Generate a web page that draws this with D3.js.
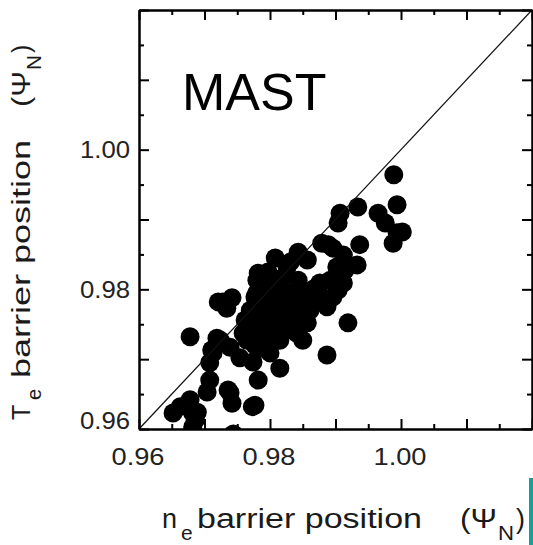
<!DOCTYPE html>
<html>
<head>
<meta charset="utf-8">
<script src="https://cdn.jsdelivr.net/npm/d3@7"></script>
<style>
  html, body { margin: 0; padding: 0; background: #fff; }
  svg { display: block; }
  text { font-family: "Liberation Sans", Arial, Helvetica, sans-serif; }
</style>
</head>
<body>
<svg id="chart" width="533" height="545"></svg>
<script>
// ---- data ----
const neBarrier = [
  0.9989, 0.9994, 0.9965, 0.9976, 1.0002, 0.9988, 0.9994, 0.9934, 0.9907, 0.9904,
  0.9937, 0.9889, 0.9896, 0.9843, 0.9808, 0.9857, 0.9912, 0.9933, 0.9902, 0.9785,
  0.9826, 0.9892, 0.9912, 0.9780, 0.9805, 0.9826, 0.9850, 0.9872, 0.9896, 0.9841,
  0.9815, 0.9861, 0.9887, 0.9811, 0.9835, 0.9857, 0.9826, 0.9800, 0.9789, 0.9815,
  0.9841, 0.9850, 0.9721, 0.9742, 0.9734, 0.9777, 0.9777, 0.9762, 0.9759, 0.9765,
  0.9782, 0.9678, 0.9719, 0.9711, 0.9708, 0.9739, 0.9754, 0.9774, 0.9800, 0.9815,
  0.9919, 0.9887, 0.9782, 0.9708, 0.9704, 0.9739, 0.9742, 0.9736, 0.9777, 0.9678,
  0.9652, 0.9663, 0.9686, 0.9689, 0.9744, 0.9682, 0.9724, 0.9713, 0.9785, 0.9728,
  0.9780, 0.9879, 0.9782, 0.9780, 0.9682, 0.9773,
  0.9792, 0.9818, 0.9843, 0.9876, 0.9904, 0.9770, 0.9792, 0.9831, 0.9873, 0.9788,
  0.9846, 0.9800, 0.9861, 0.9915, 0.9820,
  0.9797, 0.9831, 0.9853, 0.9879, 0.9808, 0.9777, 0.9823, 0.9846, 0.9869, 0.9831,
  0.9797
];
const teBarrier = [
  0.9964, 0.9921, 0.9909, 0.9895, 0.9882, 0.9866, 0.9881, 0.9918, 0.9909, 0.9895,
  0.9864, 0.9864, 0.9859, 0.9853, 0.9845, 0.9842, 0.9849, 0.9835, 0.9832, 0.9818,
  0.9832, 0.9813, 0.9809, 0.9795, 0.9803, 0.9795, 0.9799, 0.9795, 0.9789, 0.9775,
  0.9780, 0.9770, 0.9775, 0.9760, 0.9756, 0.9752, 0.9742, 0.9746, 0.9732, 0.9727,
  0.9737, 0.9727, 0.9782, 0.9788, 0.9773, 0.9789, 0.9773, 0.9756, 0.9737, 0.9727,
  0.9742, 0.9732, 0.9730, 0.9713, 0.9695, 0.9717, 0.9702, 0.9696, 0.9709, 0.9687,
  0.9752, 0.9706, 0.9670, 0.9670, 0.9653, 0.9652, 0.9637, 0.9656, 0.9634, 0.9642,
  0.9623, 0.9632, 0.9613, 0.9624, 0.9593, 0.9603, 0.9727, 0.9709, 0.9716, 0.9782,
  0.9785, 0.9866, 0.9823, 0.9813, 0.9623, 0.9632,
  0.9806, 0.9816, 0.9813, 0.9809, 0.9799, 0.9770, 0.9768, 0.9768, 0.9785, 0.9753,
  0.9748, 0.9727, 0.9792, 0.9828, 0.9796,
  0.9788, 0.9785, 0.9785, 0.9789, 0.9756, 0.9720, 0.9753, 0.9759, 0.9802, 0.9839,
  0.9825
];
const axisDomain = [0.96, 1.02];
const majorTicks = [0.96, 0.97, 0.98, 0.99, 1.00, 1.01, 1.02];
const minorTicks = [0.965, 0.975, 0.985, 0.995, 1.005, 1.015];
const labelTicks = [0.96, 0.98, 1.00];
const labelText = ["0.96", "0.98", "1.00"];
const title = "MAST";

// ---- layout ----
const L = 139, R = 532, T = 10, B = 429;
const svg = d3.select("#chart");
svg.append("rect").attr("width", 533).attr("height", 545).attr("fill", "#fff");

const x = d3.scaleLinear().domain(axisDomain).range([L, R]);
const y = d3.scaleLinear().domain(axisDomain).range([B, T]);

svg.append("defs").append("clipPath").attr("id", "plotClip")
  .append("rect").attr("x", L).attr("y", T).attr("width", R - L).attr("height", B - T);

// points
svg.append("g").attr("clip-path", "url(#plotClip)")
  .selectAll("circle")
  .data(neBarrier.map((v, i) => [v, teBarrier[i]]))
  .join("circle")
  .attr("cx", d => x(d[0]))
  .attr("cy", d => y(d[1]))
  .attr("r", 9.5)
  .attr("fill", "#000");

// diagonal y = x
svg.append("line")
  .attr("x1", x(axisDomain[0])).attr("y1", y(axisDomain[0]))
  .attr("x2", x(axisDomain[1])).attr("y2", y(axisDomain[1]))
  .attr("stroke", "#111").attr("stroke-width", 1.2);

// axes (inward ticks on all four sides)
function styleAxis(g) {
  g.selectAll("path").attr("stroke", "#000").attr("stroke-width", 2);
  g.selectAll("line").attr("stroke", "#000").attr("stroke-width", 2);
  g.selectAll("text").remove();
}
const axisMakers = [
  [() => d3.axisBottom(x), `translate(0,${B})`],
  [() => d3.axisTop(x), `translate(0,${T})`],
  [() => d3.axisLeft(y), `translate(${L},0)`],
  [() => d3.axisRight(y), `translate(${R},0)`]
];
axisMakers.forEach(([mk, tr]) => {
  svg.append("g").attr("transform", tr)
    .call(mk().tickValues(majorTicks).tickSizeInner(-10).tickSizeOuter(0).tickFormat(""))
    .call(styleAxis);
  svg.append("g").attr("transform", tr)
    .call(mk().tickValues(minorTicks).tickSizeInner(-5).tickSizeOuter(0).tickFormat(""))
    .call(styleAxis);
});

// tick labels
svg.append("g").selectAll("text")
  .data(labelTicks)
  .join("text")
  .attr("x", d => x(d) - 1)
  .attr("y", 465)
  .attr("text-anchor", "middle")
  .attr("font-size", 24)
  .attr("fill", "#222")
  .attr("textLength", 53)
  .attr("lengthAdjust", "spacingAndGlyphs")
  .text((d, i) => labelText[i]);

svg.append("g").selectAll("text")
  .data(labelTicks)
  .join("text")
  .attr("x", 130)
  .attr("y", d => Math.min(y(d), 420) + 8.5)
  .attr("text-anchor", "end")
  .attr("font-size", 24)
  .attr("fill", "#222")
  .attr("textLength", 50)
  .attr("lengthAdjust", "spacingAndGlyphs")
  .text((d, i) => labelText[i]);

// MAST label
svg.append("text")
  .attr("x", 182).attr("y", 110)
  .attr("font-size", 52).attr("fill", "#000")
  .text(title);

// x axis title
const xt = svg.append("g").attr("fill", "#1a1a1a");
xt.append("text").attr("x", 162).attr("y", 528).attr("font-size", 27).text("n");
xt.append("text").attr("x", 181).attr("y", 540).attr("font-size", 21).text("e");
xt.append("text").attr("x", 197).attr("y", 528).attr("font-size", 27)
  .attr("textLength", 225).attr("lengthAdjust", "spacingAndGlyphs").text("barrier position");
xt.append("text").attr("x", 460).attr("y", 528).attr("font-size", 27)
  .attr("textLength", 37).attr("lengthAdjust", "spacingAndGlyphs").text("(\u03A8");
xt.append("text").attr("x", 498).attr("y", 540).attr("font-size", 21)
  .attr("textLength", 16).attr("lengthAdjust", "spacingAndGlyphs").text("N");
xt.append("text").attr("x", 516).attr("y", 528).attr("font-size", 27).text(")");

// y axis title (rotated)
const yt = svg.append("g").attr("fill", "#1a1a1a")
  .attr("transform", "translate(30,420) rotate(-90)");
yt.append("text").attr("x", 0).attr("y", 0).attr("font-size", 25).text("T");
yt.append("text").attr("x", 20).attr("y", 11).attr("font-size", 20).text("e");
yt.append("text").attr("x", 42).attr("y", 0).attr("font-size", 25)
  .attr("textLength", 238).attr("lengthAdjust", "spacingAndGlyphs").text("barrier position");
yt.append("text").attr("x", 313).attr("y", 0).attr("font-size", 25)
  .attr("textLength", 36).attr("lengthAdjust", "spacingAndGlyphs").text("(\u03A8");
yt.append("text").attr("x", 350).attr("y", 11).attr("font-size", 20)
  .attr("textLength", 15).attr("lengthAdjust", "spacingAndGlyphs").text("N");
yt.append("text").attr("x", 367).attr("y", 0).attr("font-size", 25).text(")");

// teal edge mark at lower right
svg.append("rect").attr("x", 529).attr("y", 478).attr("width", 4).attr("height", 67)
  .attr("fill", "#16a09c");
</script>
</body>
</html>
